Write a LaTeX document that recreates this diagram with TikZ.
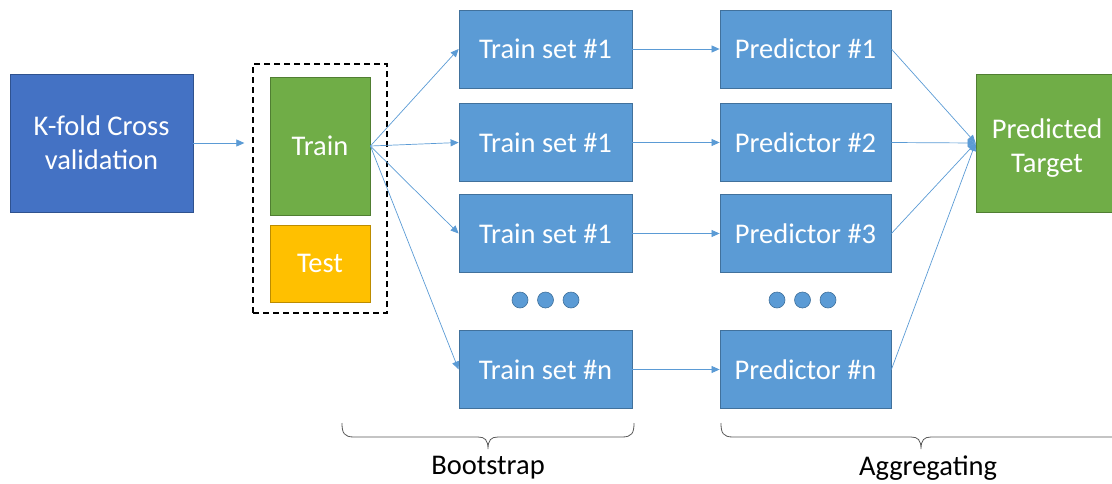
\documentclass[tikz,border=0pt]{standalone}
\usepackage{fontspec}
\setmainfont{Carlito}
\usetikzlibrary{arrows.meta}
\definecolor{kblue}{HTML}{4472C4}
\definecolor{kblueb}{HTML}{2F528F}
\definecolor{lblue}{HTML}{5B9BD5}
\definecolor{lblueb}{HTML}{41719C}
\definecolor{ogreen}{HTML}{70AD47}
\definecolor{ogreenb}{HTML}{507E32}
\definecolor{oyellow}{HTML}{FFC000}
\definecolor{oyellowb}{HTML}{BC8C00}
\definecolor{bracegray}{HTML}{595959}
\begin{document}
\begin{tikzpicture}[x=1pt,y=-1pt,
  box/.style={rectangle, draw, line width=0.8pt, text=white, align=center,
    font=\fontsize{28.5}{34}\selectfont, inner sep=0pt},
  bluebox/.style={box, fill=lblue, draw=lblueb, minimum width=173pt, minimum height=78pt},
  predbox/.style={box, fill=lblue, draw=lblueb, minimum width=171pt, minimum height=78pt},
  conn/.style={draw=lblue, line width=0.7pt, -{Triangle[length=8pt,width=7pt]}},
  dot/.style={circle, fill=lblue, draw=lblueb, line width=0.6pt, minimum size=16pt, inner sep=0pt},
  bracestyle/.style={draw=bracegray, line width=0.8pt},
  lbl/.style={font=\fontsize{28.5}{34}\selectfont, text=black}
]
\useasboundingbox (0,0) rectangle (1112,483);

\node[box, fill=kblue, draw=kblueb, minimum width=183pt, minimum height=138pt] (kfold) at (101.5,143) {K-fold Cross\\validation};

\node[draw, dash pattern=on 6pt off 4pt, line width=1.3pt, minimum width=134pt, minimum height=249pt] (split) at (320,188.5) {};
\node[box, fill=ogreen, draw=ogreenb, minimum width=100pt, minimum height=138pt] (train) at (320,146) {Train};
\node[box, fill=oyellow, draw=oyellowb, minimum width=100pt, minimum height=77pt] (test) at (320,263.5) {Test};

\node[bluebox] (ts1) at (545.5,49) {Train set \#1};
\node[bluebox] (ts2) at (545.5,142.5) {Train set \#1};
\node[bluebox] (ts3) at (545.5,233.5) {Train set \#1};
\node[bluebox] (tsn) at (545.5,369.5) {Train set \#n};

\node[predbox] (p1) at (805.5,49) {Predictor \#1};
\node[predbox] (p2) at (805.5,142.5) {Predictor \#2};
\node[predbox] (p3) at (805.5,233.5) {Predictor \#3};
\node[predbox] (pn) at (805.5,369.5) {Predictor \#n};

\node[dot] (d1) at (520,300) {};
\node[dot] (d2) at (545.5,300) {};
\node[dot] (d3) at (571,300) {};
\node[dot] (e1) at (777,300) {};
\node[dot] (e2) at (802.5,300) {};
\node[dot] (e3) at (828,300) {};

\node[box, fill=ogreen, draw=ogreenb, minimum width=142pt, minimum height=138pt] (target) at (1047,143) {\rule{0pt}{30pt}Predicted\\Target};

\draw[conn, shorten >=8pt] (kfold.east) -- (kfold.east -| split.west);

\foreach \t in {ts1,ts2,ts3,tsn} \draw[conn] (train.east) -- (\t.west);
\draw[conn] (ts1.east) -- (p1.west);
\draw[conn] (ts2.east) -- (p2.west);
\draw[conn] (ts3.east) -- (p3.west);
\draw[conn] (tsn.east) -- (pn.west);
\foreach \p in {p1,p2,p3,pn} \draw[conn] (\p.east) -- (target.west);

% braces
\draw[bracestyle] (342,423) .. controls (342,433) and (344,437) .. (354,437)
  -- (478,437) .. controls (485,437) and (488,440) .. (488,449)
  .. controls (488,440) and (491,437) .. (498,437)
  -- (622,437) .. controls (632,437) and (634,433) .. (634,423);
\draw[bracestyle] (721,423) .. controls (721,433) and (723,437) .. (733,437)
  -- (911,437) .. controls (918,437) and (921,440) .. (921,449)
  .. controls (921,440) and (924,437) .. (931,437)
  -- (1120,437);

\node[lbl] (boot) at (488,468) {Bootstrap};
\node[lbl] (agg) at (928,468) {Aggregating};
\end{tikzpicture}
\end{document}
